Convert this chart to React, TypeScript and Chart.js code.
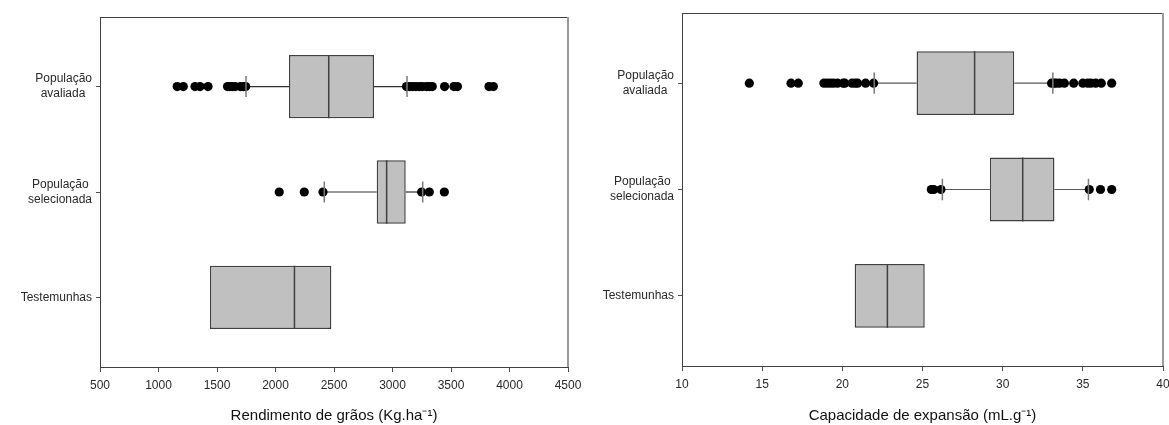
import React, { useEffect, useRef } from "react";
import { Chart, registerables } from "chart.js";

Chart.register(...registerables);
const FONT_FAMILY = "'Liberation Sans', Arial, sans-serif";
Chart.defaults.font.family = FONT_FAMILY;

// ---------- shared categories ----------
const categories: string[][] = [
  ["População", "avaliada"],
  ["População", "selecionada"],
  ["Testemunhas"],
];

// ---------- Rendimento de grãos (Kg.ha-1) ----------
const yieldLowerWhisker = [1748, 2417, 1439];
const yieldQ1 = [2115, 2865, 1439];
const yieldMedian = [2455, 2950, 2162];
const yieldQ3 = [2842, 3113, 2477];
const yieldUpperWhisker = [3124, 3258, 2477];
const yieldOutliersAvaliada = [
  1160, 1212, 1312, 1355, 1423, 1590, 1610, 1630, 1655, 1700, 1725, 1745,
  3120, 3145, 3170, 3200, 3230, 3255, 3290, 3315, 3340, 3445, 3525, 3555, 3825, 3862,
];
const yieldOutliersSelecionada = [2032, 2246, 2406, 3249, 3315, 3443];
const yieldOutliersTestemunhas: number[] = [];
const yieldTicks = [500, 1000, 1500, 2000, 2500, 3000, 3500, 4000, 4500];
const yieldTitle = "Rendimento de grãos (Kg.ha⁻¹)";

// ---------- Capacidade de expansão (mL.g-1) ----------
const expLowerWhisker = [21.99, 26.24, 20.77];
const expQ1 = [24.63, 29.2, 20.77];
const expMedian = [28.25, 31.25, 22.81];
const expQ3 = [30.72, 33.23, 25.14];
const expUpperWhisker = [33.13, 35.35, 25.14];
const expOutliersAvaliada = [
  14.2, 16.8, 17.25, 18.85, 19.05, 19.25, 19.45, 19.7, 20.05, 20.15, 20.6, 20.8, 20.95, 21.45, 21.95,
  33.05, 33.2, 33.35, 33.55, 33.85, 34.43, 35.0, 35.3, 35.5, 35.8, 36.15, 36.8,
];
const expOutliersSelecionada = [25.55, 25.7, 26.15, 35.4, 36.1, 36.8];
const expOutliersTestemunhas: number[] = [];
const expTicks = [10, 15, 20, 25, 30, 35, 40];
const expTitle = "Capacidade de expansão (mL.g⁻¹)";

// centre the lines of a multi-line label inside its block (label is right-aligned as a block)
function centreLines(lines: string[]): string[] {
  if (lines.length < 2) return lines;
  const c = document.createElement("canvas").getContext("2d");
  if (!c) return lines;
  c.font = `12px ${FONT_FAMILY}`;
  const widths = lines.map((l) => c.measureText(l).width);
  const max = Math.max(...widths);
  const sp = c.measureText(" ").width || 3.3;
  return lines.map((l, i) => l + " ".repeat(Math.max(0, Math.round((max - widths[i]) / 2 / sp))));
}

const framePlugin = {
  id: "frame",
  afterDatasetsDraw(chart: any) {
    const { ctx, chartArea } = chart;
    const { left, right, top, bottom } = chartArea;
    ctx.save();
    ctx.strokeStyle = "#404040";
    ctx.lineWidth = 1;
    ctx.beginPath();
    ctx.moveTo(left + 0.5, bottom);
    ctx.lineTo(left + 0.5, top + 0.5);
    ctx.lineTo(right, top + 0.5);
    ctx.stroke();
    ctx.strokeStyle = "#9a9a9a";
    ctx.lineWidth = 2;
    ctx.beginPath();
    ctx.moveTo(right, top);
    ctx.lineTo(right, bottom);
    ctx.stroke();
    ctx.restore();
  },
};

type PanelProps = {
  lower: number[];
  q1: number[];
  median: number[];
  q3: number[];
  upper: number[];
  outliers: number[][];
  ticks: number[];
  title: string;
  whiskerColor: string;
  padTop: number;
  padRight: number;
  yWidth: number;
  xHeight: number;
  canvasWidth: number;
  boxWidth: number;
  left: number;
};

function seg(data: { x: number; y: number }[], color: string, width: number, order: number) {
  return {
    type: "line",
    data,
    borderColor: color,
    borderWidth: width,
    pointRadius: 0,
    fill: false,
    tension: 0,
    order,
  };
}

function BoxPanel(p: PanelProps) {
  const ref = useRef<HTMLCanvasElement | null>(null);
  useEffect(() => {
    if (!ref.current) return;
    const labels = categories.map(centreLines);
    const datasets: any[] = [];
    datasets.push({
      type: "bar",
      indexAxis: "y",
      data: p.q1.map((q, i) => ({ x: [q, p.q3[i]], y: i })),
      backgroundColor: "#c0c0c0",
      borderColor: "#404040",
      borderWidth: 1.5,
      borderSkipped: false,
      categoryPercentage: 1,
      barPercentage: 0.6,
      order: 3,
    });
    p.median.forEach((m, i) => {
      datasets.push(seg([{ x: m, y: i - 0.3 }, { x: m, y: i + 0.3 }], "#404040", 1.5, 2));
    });
    p.lower.forEach((w, i) => {
      if (w < p.q1[i]) {
        datasets.push(seg([{ x: w, y: i }, { x: p.q1[i], y: i }], p.whiskerColor, 1.2, 4));
        datasets.push(seg([{ x: w, y: i - 0.1 }, { x: w, y: i + 0.1 }], "#7a7a7a", 1.5, 0));
      }
    });
    p.upper.forEach((w, i) => {
      if (w > p.q3[i]) {
        datasets.push(seg([{ x: p.q3[i], y: i }, { x: w, y: i }], p.whiskerColor, 1.2, 4));
        datasets.push(seg([{ x: w, y: i - 0.1 }, { x: w, y: i + 0.1 }], "#7a7a7a", 1.5, 0));
      }
    });
    datasets.push({
      type: "scatter",
      data: p.outliers.flatMap((arr, i) => arr.map((v) => ({ x: v, y: i }))),
      backgroundColor: "#000000",
      borderColor: "#000000",
      borderWidth: 0,
      pointRadius: 4.6,
      showLine: false,
      order: 1,
    });

    const chart = new Chart(ref.current, {
      type: "bar",
      data: { datasets },
      plugins: [framePlugin],
      options: {
        responsive: false,
        animation: false,
        events: [],
        layout: { padding: { top: p.padTop, right: p.padRight, left: 0, bottom: 0 } },
        plugins: { legend: { display: false }, tooltip: { enabled: false } },
        scales: {
          x: {
            type: "linear",
            position: "bottom",
            offset: false,
            beginAtZero: false,
            min: p.ticks[0],
            max: p.ticks[p.ticks.length - 1],
            afterBuildTicks: (scale: any) => {
              scale.ticks = p.ticks.map((v) => ({ value: v }));
            },
            afterFit: (scale: any) => {
              scale.height = p.xHeight;
            },
            ticks: {
              callback: (v: any) => String(v),
              font: { size: 12 },
              color: "#2a2a2a",
              padding: 6,
              maxRotation: 0,
              autoSkip: false,
            },
            grid: {
              display: true,
              offset: false,
              drawOnChartArea: false,
              drawTicks: true,
              tickLength: 5,
              color: "#505050",
            },
            border: { display: true, color: "#404040", width: 1 },
            title: {
              display: true,
              text: p.title,
              font: { size: 15 },
              color: "#111111",
              padding: { top: 0, bottom: 0 },
            },
          },
          y: {
            type: "linear",
            position: "left",
            offset: false,
            beginAtZero: false,
            reverse: true,
            min: -0.66,
            max: 2.66,
            afterBuildTicks: (scale: any) => {
              scale.ticks = categories.map((_, i) => ({ value: i }));
            },
            afterFit: (scale: any) => {
              scale.width = p.yWidth;
            },
            ticks: {
              callback: (v: any) => labels[Math.round(Number(v))] ?? "",
              font: { size: 12, lineHeight: 1.25 },
              color: "#2a2a2a",
              padding: 4,
              autoSkip: false,
            },
            grid: {
              display: true,
              offset: false,
              drawOnChartArea: false,
              drawTicks: true,
              tickLength: 4,
              color: "#505050",
            },
            border: { display: true, color: "#404040", width: 1 },
          },
        },
      } as any,
    } as any);
    return () => chart.destroy();
  }, []);

  return (
    <div
      style={{
        position: "absolute",
        left: p.left,
        top: 0,
        width: p.boxWidth,
        height: 425,
        overflow: "hidden",
      }}
    >
      <canvas ref={ref} width={p.canvasWidth} height={425} style={{ display: "block" }} />
    </div>
  );
}

export default function App() {
  return (
    <div
      style={{
        position: "fixed",
        left: 0,
        top: 0,
        width: 1169,
        height: 425,
        background: "#ffffff",
        overflow: "hidden",
      }}
    >
      <BoxPanel
        lower={yieldLowerWhisker}
        q1={yieldQ1}
        median={yieldMedian}
        q3={yieldQ3}
        upper={yieldUpperWhisker}
        outliers={[yieldOutliersAvaliada, yieldOutliersSelecionada, yieldOutliersTestemunhas]}
        ticks={yieldTicks}
        title={yieldTitle}
        whiskerColor="#303030"
        padTop={17}
        padRight={22}
        yWidth={100}
        xHeight={58}
        canvasWidth={590}
        boxWidth={590}
        left={0}
      />
      <BoxPanel
        lower={expLowerWhisker}
        q1={expQ1}
        median={expMedian}
        q3={expQ3}
        upper={expUpperWhisker}
        outliers={[expOutliersAvaliada, expOutliersSelecionada, expOutliersTestemunhas]}
        ticks={expTicks}
        title={expTitle}
        whiskerColor="#5a5a5a"
        padTop={13}
        padRight={17}
        yWidth={92}
        xHeight={59}
        canvasWidth={590}
        boxWidth={579}
        left={590}
      />
    </div>
  );
}
